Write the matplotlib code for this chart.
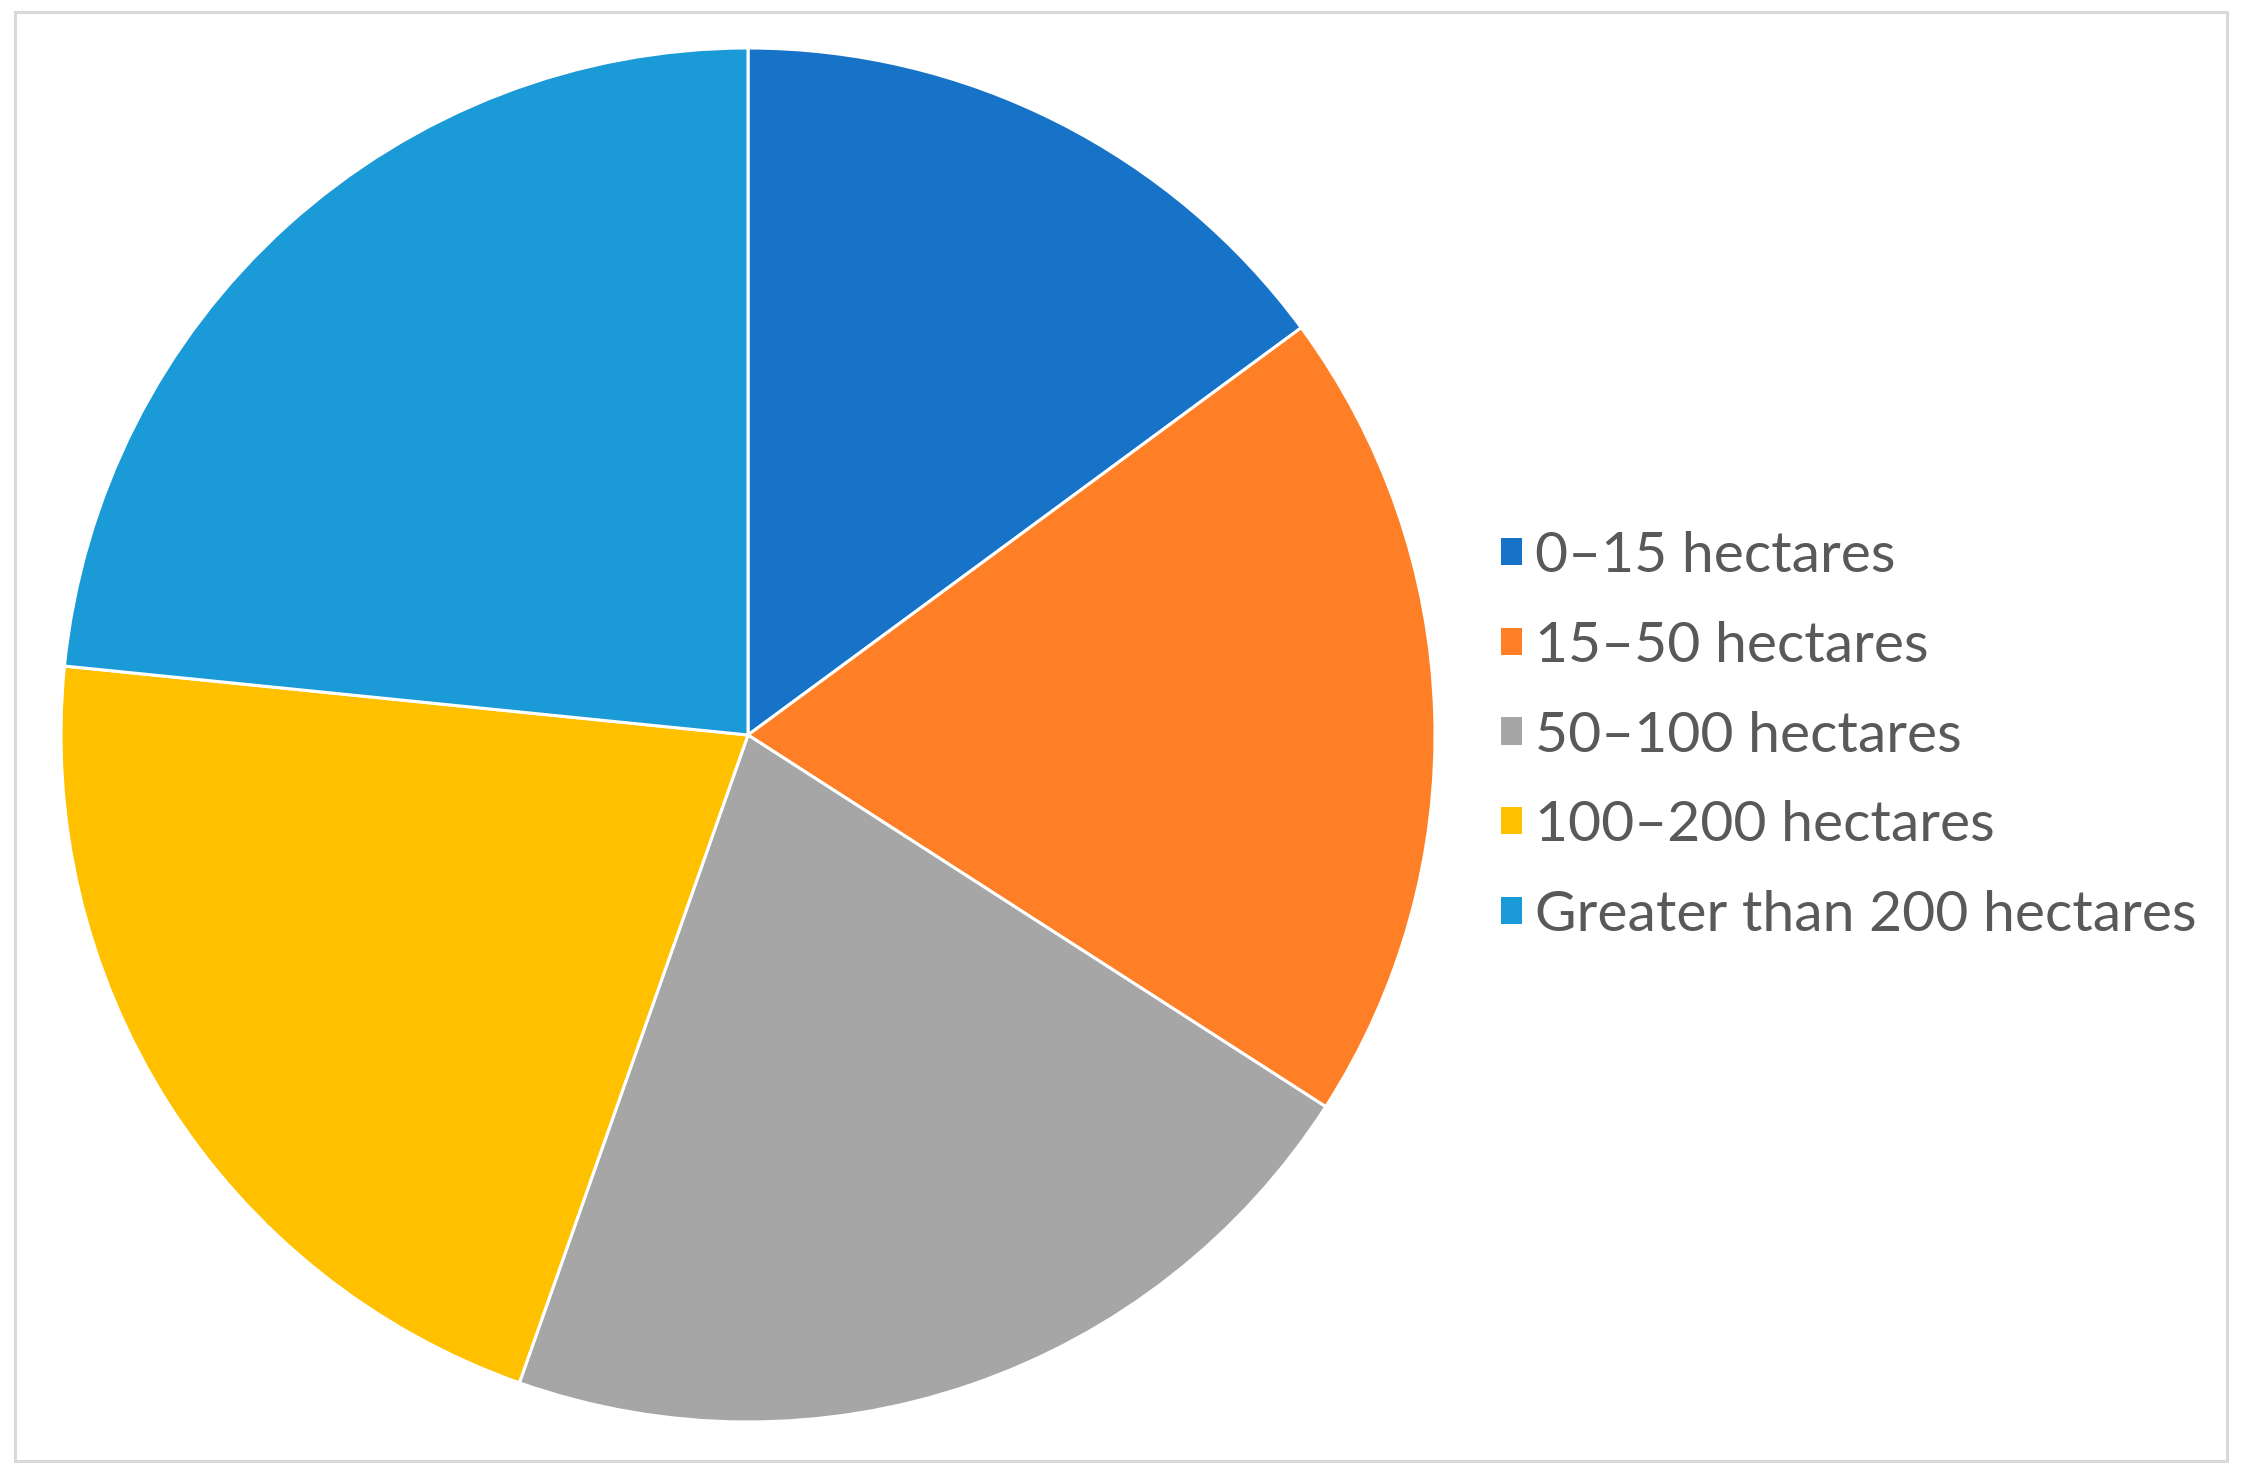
import matplotlib
matplotlib.use("Agg")
import matplotlib.pyplot as plt
from matplotlib.patches import Patch, Rectangle

# farm size classes and their shares (%)
labels = [
    "0–15 hectares",
    "15–50 hectares",
    "50–100 hectares",
    "100–200 hectares",
    "Greater than 200 hectares",
]
shares = [14.9, 19.2, 21.3, 21.2, 23.4]
colors = ["#1673C7", "#FF7F27", "#A6A6A6", "#FFC000", "#1A9BD7"]

W, H = 2242, 1476
fig = plt.figure(figsize=(W / 100, H / 100), dpi=100)

# light frame round the chart area
fig.patches.append(
    Rectangle((15 / W, 15 / H), 2212 / W, 1449 / H,
              transform=fig.transFigure, fill=False,
              edgecolor="#D9D9D9", linewidth=2.2)
)

cx, cy, r = 748, 735, 687
ax = fig.add_axes([(cx - r) / W, (H - cy - r) / H, 2 * r / W, 2 * r / H])

wedges, _ = ax.pie(
    shares,
    colors=colors,
    startangle=90,
    counterclock=False,
    radius=1.0,
    wedgeprops=dict(edgecolor="white", linewidth=2.2),
)
ax.set_xlim(-1, 1)
ax.set_ylim(-1, 1)
ax.set_aspect("equal")
ax.axis("off")

handles = [Patch(facecolor=c, edgecolor="none") for c in colors]
leg = fig.legend(
    handles,
    labels,
    loc="center left",
    bbox_to_anchor=(1501 / W, (H - 736) / H),
    frameon=False,
    prop={"family": ["Lato", "DejaVu Sans"], "size": 41},
    handlelength=0.36,
    handleheight=0.36,
    handletextpad=0.24,
    labelspacing=0.68,
    borderpad=0,
    borderaxespad=0,
)
for t in leg.get_texts():
    t.set_color("#595959")

fig.savefig("out.png", dpi=100, facecolor="white")
